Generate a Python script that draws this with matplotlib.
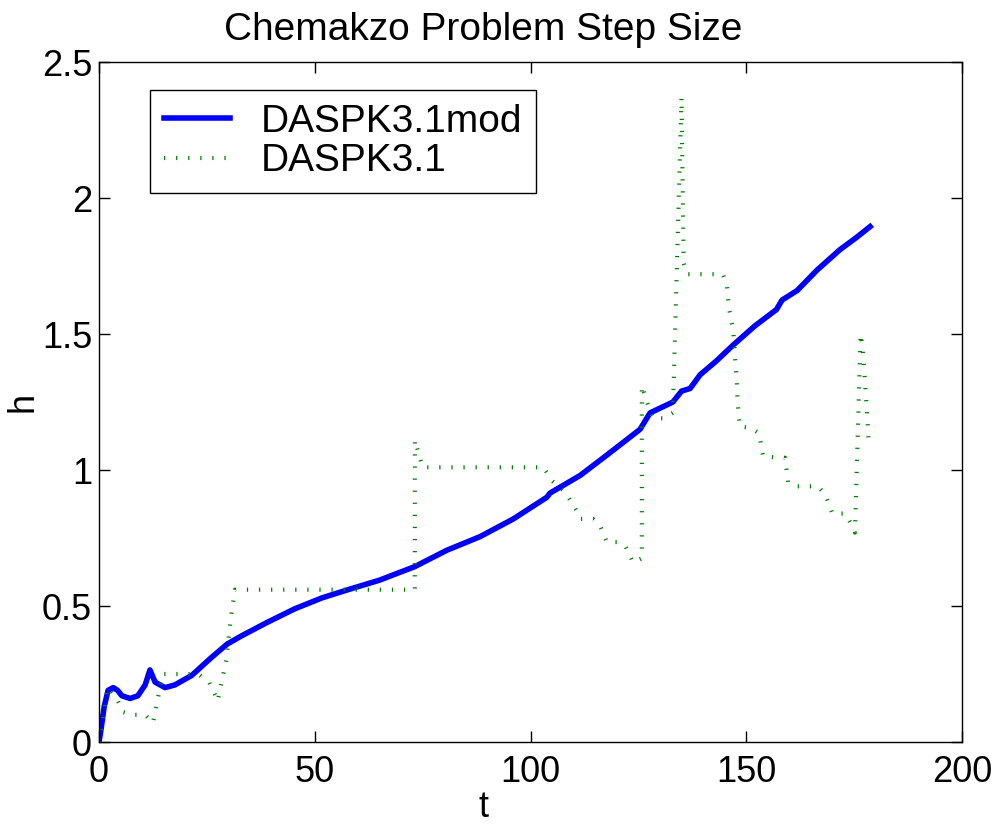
import matplotlib
matplotlib.use("Agg")
import matplotlib.pyplot as plt

plt.rcParams['font.family'] = ['Liberation Sans', 'DejaVu Sans']

# DASPK3.1mod step size (blue)
t_mod = [0, 0.5, 1.2, 2.1, 3.3, 4.3, 5.3, 7.2, 9.0, 10.7, 11.8, 13.0, 15.3, 17.6,
         21.5, 26.0, 29.7, 33.0, 39.0, 45.4, 51.7, 57.7, 65.0, 73.2, 80.6, 88.3,
         96.0, 103.8, 104.5, 111.5, 117.7, 123.8, 125.4, 127.7, 133.0, 135.0,
         137.0, 139.3, 143.0, 147.0, 152.0, 157.0, 158.3, 161.8, 166.4, 171.7,
         175.7, 178.7]
h_mod = [0.0, 0.05, 0.13, 0.19, 0.20, 0.19, 0.17, 0.16, 0.17, 0.21, 0.265, 0.22,
         0.20, 0.21, 0.245, 0.31, 0.36, 0.39, 0.44, 0.49, 0.53, 0.56, 0.595, 0.645,
         0.705, 0.755, 0.82, 0.90, 0.915, 0.98, 1.055, 1.13, 1.15, 1.21, 1.25, 1.29,
         1.30, 1.35, 1.40, 1.46, 1.53, 1.59, 1.625, 1.66, 1.735, 1.81, 1.857, 1.895]

# DASPK3.1 step size (green dotted)
t_old = [0, 2.1, 3.8, 5.6, 8.0, 10.7, 12.5, 14.8, 23.0, 25.5, 27.0, 27.5, 29.5,
         30.5, 31.5, 73.2, 73.2, 75.0, 103.0, 105.0, 108.0, 110.7, 111.5, 114.5,
         116.0, 117.7, 120.0, 122.0, 123.8, 125.8, 125.8, 127.0, 128.4, 131.0,
         133.0, 135.0, 135.5, 136.3, 144.6, 145.5, 146.0, 147.0, 147.4, 147.8,
         148.0, 148.5, 150.9, 153.0, 153.9, 159.0, 159.7, 161.7, 166.6, 168.3,
         170.0, 172.9, 174.0, 175.2, 176.5, 177.0, 177.5, 178.0, 178.3]
h_old = [0.0, 0.20, 0.17, 0.11, 0.10, 0.10, 0.07, 0.25, 0.25, 0.22, 0.17, 0.15,
         0.30, 0.45, 0.56, 0.56, 1.11, 1.01, 1.01, 0.96, 0.92, 0.85, 0.82, 0.82,
         0.80, 0.735, 0.735, 0.72, 0.66, 0.675, 1.31, 1.25, 1.19, 1.19, 1.21, 2.37,
         1.76, 1.72, 1.72, 1.68, 1.595, 1.51, 1.415, 1.33, 1.25, 1.16, 1.155,
         1.135, 1.05, 1.045, 0.956, 0.94, 0.94, 0.91, 0.84, 0.84, 0.81, 0.77, 1.50,
         1.45, 1.33, 1.21, 1.12]

fig = plt.figure(figsize=(10, 8.25), dpi=100)
ax = fig.add_axes([0.099, 0.1006, 0.863, 0.8242])

ax.plot(t_mod, h_mod, color=(0, 0, 1), lw=4, label='DASPK3.1mod')
ax.plot(t_old, h_old, color=(0, 0.5, 0), lw=3, dashes=(0.3, 2.6),
        dash_capstyle='butt', label='DASPK3.1')

ax.set_xlim(0, 200)
ax.set_ylim(0, 2.5)
ax.set_xticks([0, 50, 100, 150, 200])
ax.set_yticks([0, 0.5, 1, 1.5, 2, 2.5])
ax.set_yticklabels(['0', '0.5', '1', '1.5', '2', '2.5'])
ax.tick_params(direction='in', top=True, right=True, labelsize=26,
               length=8, width=1)
ax.tick_params(axis='x', pad=9)
ax.tick_params(axis='y', pad=5)
for s in ax.spines.values():
    s.set_linewidth(1)

title = ax.set_title('Chemakzo Problem Step Size', fontsize=28, pad=16)
title.set_x(0.445)

xl = ax.set_xlabel('t', fontsize=26)
xl.set_va('baseline')
ax.xaxis.set_label_coords(0.446, -0.110)
yl = ax.set_ylabel('h', fontsize=26)
yl.set_va('center')
ax.yaxis.set_label_coords(-0.088, 0.5)

leg = ax.legend(loc='upper left', bbox_to_anchor=(0.059, 0.959), fontsize=28,
                borderaxespad=0, fancybox=False, framealpha=1,
                edgecolor='black', handlelength=1.7, borderpad=0.35,
                labelspacing=0.1, handletextpad=0.8)
leg.get_frame().set_linewidth(1)

fig.savefig('out.png', dpi=100)
